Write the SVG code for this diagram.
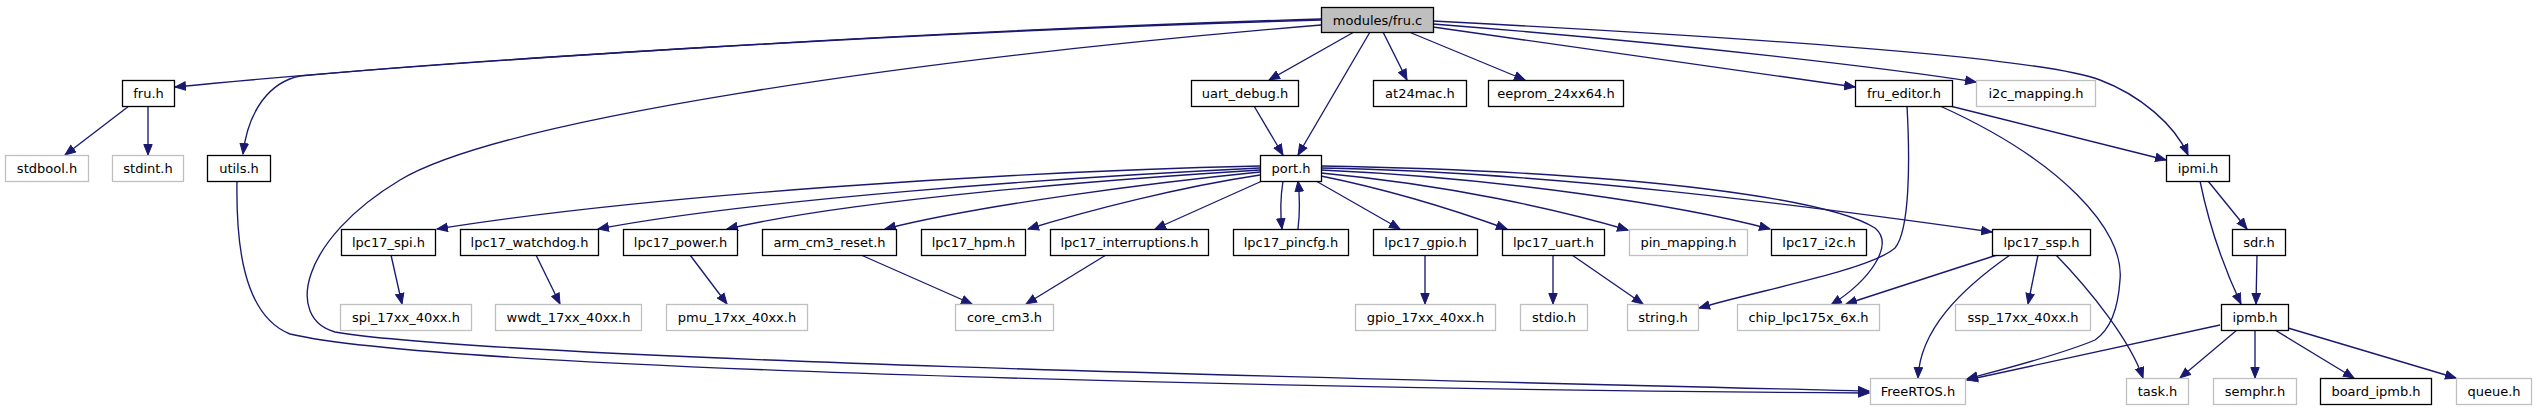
<svg xmlns="http://www.w3.org/2000/svg" width="2536" height="411" viewBox="0 0 2536 411">
<style>
.n rect{fill:#fff;stroke:#000;stroke-width:1.3}
.x rect{fill:#fff;stroke:#bfbfbf;stroke-width:1.3}
#fru_c rect{fill:#bfbfbf}
text{font-family:"DejaVu Sans",sans-serif;font-size:13px;text-anchor:middle;fill:#000}
.e path{fill:none;stroke:#191970;stroke-width:1.35;marker-end:url(#a)}
</style>
<defs>
<marker id="a" markerWidth="12" markerHeight="10" refX="11" refY="5" orient="auto" markerUnits="userSpaceOnUse">
<path d="M0.5,0.8 L11,5 L0.5,9.2 z" fill="#191970" stroke="#191970" stroke-width="1"/>
</marker>
</defs>
<rect width="2536" height="411" fill="#fff"/>
<g class="e" id="edges">
<path d="M1321,19 C950,30 450,60 175,87"/>
<path d="M1321,20 C900,32 450,62 300,76 C270,82 248,110 243,154"/>
<path d="M1321,25 C900,60 500,120 400,180 C300,240 285,318 335,332 C500,360 1400,380 1869,391"/>
<path d="M237,181 C236,240 242,315 290,334 C450,372 1400,390 1869,393"/>
<path d="M1354,32 L1269,80"/>
<path d="M1370,32 L1298,155"/>
<path d="M1254,106 L1283,155"/>
<path d="M1383,32 L1407,80"/>
<path d="M1409,32 L1525,80"/>
<path d="M1433,27 L1855,87"/>
<path d="M1433,24 C1700,45 1900,70 1976,82"/>
<path d="M1433,21 C1800,40 2050,60 2100,80 C2140,95 2175,125 2188,155"/>
<path d="M129,106 L65,155"/>
<path d="M148,106 L148,155"/>
<path d="M1950,106 L2166,160"/>
<path d="M1940,106 C2060,160 2125,230 2120,280 C2118,310 2110,330 2095,340 C2060,355 2000,370 1967,379"/>
<path d="M1907,106 C1910,160 1910,230 1895,248 C1870,270 1760,290 1699,308"/>
<path d="M1260,166 C1000,172 650,195 437,229"/>
<path d="M1260,168 C1050,178 750,200 598,229"/>
<path d="M1260,170 C1100,180 850,200 727,229"/>
<path d="M1260,172 C1150,183 980,205 885,229"/>
<path d="M1260,175 C1180,187 1090,210 1028,229"/>
<path d="M1262,181 L1155,229"/>
<path d="M1283,181 C1280,200 1280,212 1282,229"/>
<path d="M1298,229 C1300,212 1300,198 1298,181"/>
<path d="M1316,181 L1400,229"/>
<path d="M1321,176 C1400,192 1460,212 1507,229"/>
<path d="M1321,173 C1450,185 1560,210 1628,230"/>
<path d="M1321,170 C1500,178 1680,205 1770,229"/>
<path d="M1321,168 C1550,172 1800,205 1992,232"/>
<path d="M1321,166 C1650,172 1830,200 1875,228 C1895,245 1870,280 1831,305"/>
<path d="M391,255 L402,304"/>
<path d="M536,255 L560,304"/>
<path d="M690,255 L727,304"/>
<path d="M861,255 L972,304"/>
<path d="M1106,255 L1026,304"/>
<path d="M1425,255 L1425,304"/>
<path d="M1553,255 L1553,304"/>
<path d="M1572,255 L1643,304"/>
<path d="M1997,255 L1846,304"/>
<path d="M2010,255 C1960,290 1920,330 1918,378"/>
<path d="M2038,255 L2028,304"/>
<path d="M2056,255 C2090,290 2130,340 2143,378"/>
<path d="M2208,181 L2247,229"/>
<path d="M2200,181 C2210,230 2225,270 2241,304"/>
<path d="M2257,255 L2256,304"/>
<path d="M2220,325 L1967,380"/>
<path d="M2237,330 L2180,378"/>
<path d="M2255,330 L2255,378"/>
<path d="M2275,330 L2354,378"/>
<path d="M2288,328 L2456,378"/>
</g>
<g id="fru_c" class="n"><rect x="1321.5" y="7.5" width="112" height="25"/><text x="1377.5" y="25">modules/fru.c</text></g>
<g id="fru_h" class="n"><rect x="122.5" y="80.5" width="52" height="26"/><text x="148.5" y="98">fru.h</text></g>
<g id="uart_debug_h" class="n"><rect x="1191.5" y="80.5" width="107" height="26"/><text x="1245" y="98">uart_debug.h</text></g>
<g id="at24mac_h" class="n"><rect x="1373.5" y="80.5" width="93" height="26"/><text x="1420" y="98">at24mac.h</text></g>
<g id="eeprom_h" class="n"><rect x="1488.5" y="80.5" width="135" height="26"/><text x="1556" y="98">eeprom_24xx64.h</text></g>
<g id="fru_editor_h" class="n"><rect x="1855.5" y="80.5" width="97" height="26"/><text x="1904" y="98">fru_editor.h</text></g>
<g id="i2c_mapping_h" class="x"><rect x="1976.5" y="80.5" width="119" height="26"/><text x="2036" y="98">i2c_mapping.h</text></g>
<g id="stdbool_h" class="x"><rect x="5.5" y="155.5" width="83" height="26"/><text x="47" y="173">stdbool.h</text></g>
<g id="stdint_h" class="x"><rect x="112.5" y="155.5" width="71" height="26"/><text x="148" y="173">stdint.h</text></g>
<g id="utils_h" class="n"><rect x="207.5" y="155.5" width="63" height="26"/><text x="239" y="173">utils.h</text></g>
<g id="port_h" class="n"><rect x="1260.5" y="155.5" width="61" height="26"/><text x="1291" y="173">port.h</text></g>
<g id="ipmi_h" class="n"><rect x="2166.5" y="155.5" width="63" height="26"/><text x="2198" y="173">ipmi.h</text></g>
<g id="lpc17_spi_h" class="n"><rect x="341.5" y="229.5" width="94" height="26"/><text x="388.5" y="247">lpc17_spi.h</text></g>
<g id="lpc17_watchdog_h" class="n"><rect x="460.5" y="229.5" width="138" height="26"/><text x="529.5" y="247">lpc17_watchdog.h</text></g>
<g id="lpc17_power_h" class="n"><rect x="623.5" y="229.5" width="114" height="26"/><text x="680.5" y="247">lpc17_power.h</text></g>
<g id="arm_cm3_reset_h" class="n"><rect x="762.5" y="229.5" width="134" height="26"/><text x="829.5" y="247">arm_cm3_reset.h</text></g>
<g id="lpc17_hpm_h" class="n"><rect x="921.5" y="229.5" width="104" height="26"/><text x="973.5" y="247">lpc17_hpm.h</text></g>
<g id="lpc17_interruptions_h" class="n"><rect x="1050.5" y="229.5" width="158" height="26"/><text x="1129.5" y="247">lpc17_interruptions.h</text></g>
<g id="lpc17_pincfg_h" class="n"><rect x="1233.5" y="229.5" width="115" height="26"/><text x="1291" y="247">lpc17_pincfg.h</text></g>
<g id="lpc17_gpio_h" class="n"><rect x="1373.5" y="229.5" width="104" height="26"/><text x="1425.5" y="247">lpc17_gpio.h</text></g>
<g id="lpc17_uart_h" class="n"><rect x="1502.5" y="229.5" width="102" height="26"/><text x="1553.5" y="247">lpc17_uart.h</text></g>
<g id="pin_mapping_h" class="x"><rect x="1629.5" y="229.5" width="118" height="26"/><text x="1688.5" y="247">pin_mapping.h</text></g>
<g id="lpc17_i2c_h" class="n"><rect x="1771.5" y="229.5" width="95" height="26"/><text x="1819" y="247">lpc17_i2c.h</text></g>
<g id="lpc17_ssp_h" class="n"><rect x="1992.5" y="229.5" width="98" height="26"/><text x="2041.5" y="247">lpc17_ssp.h</text></g>
<g id="sdr_h" class="n"><rect x="2232.5" y="229.5" width="53" height="26"/><text x="2259" y="247">sdr.h</text></g>
<g id="spi_17xx_40xx_h" class="x"><rect x="340.5" y="304.5" width="131" height="26"/><text x="406" y="322">spi_17xx_40xx.h</text></g>
<g id="wwdt_17xx_40xx_h" class="x"><rect x="495.5" y="304.5" width="146" height="26"/><text x="568.5" y="322">wwdt_17xx_40xx.h</text></g>
<g id="pmu_17xx_40xx_h" class="x"><rect x="666.5" y="304.5" width="141" height="26"/><text x="737" y="322">pmu_17xx_40xx.h</text></g>
<g id="core_cm3_h" class="x"><rect x="955.5" y="304.5" width="98" height="26"/><text x="1004.5" y="322">core_cm3.h</text></g>
<g id="gpio_17xx_40xx_h" class="x"><rect x="1355.5" y="304.5" width="140" height="26"/><text x="1425.5" y="322">gpio_17xx_40xx.h</text></g>
<g id="stdio_h" class="x"><rect x="1520.5" y="304.5" width="67" height="26"/><text x="1554" y="322">stdio.h</text></g>
<g id="string_h" class="x"><rect x="1627.5" y="304.5" width="71" height="26"/><text x="1663" y="322">string.h</text></g>
<g id="chip_lpc175x_6x_h" class="x"><rect x="1737.5" y="304.5" width="142" height="26"/><text x="1808.5" y="322">chip_lpc175x_6x.h</text></g>
<g id="ssp_17xx_40xx_h" class="x"><rect x="1955.5" y="304.5" width="135" height="26"/><text x="2023" y="322">ssp_17xx_40xx.h</text></g>
<g id="ipmb_h" class="n"><rect x="2221.5" y="304.5" width="67" height="26"/><text x="2255" y="322">ipmb.h</text></g>
<g id="FreeRTOS_h" class="x"><rect x="1870.5" y="378.5" width="95" height="26"/><text x="1918" y="396">FreeRTOS.h</text></g>
<g id="task_h" class="x"><rect x="2126.5" y="378.5" width="62" height="26"/><text x="2157.5" y="396">task.h</text></g>
<g id="semphr_h" class="x"><rect x="2213.5" y="378.5" width="83" height="26"/><text x="2255" y="396">semphr.h</text></g>
<g id="board_ipmb_h" class="n"><rect x="2320.5" y="378.5" width="111" height="26"/><text x="2376" y="396">board_ipmb.h</text></g>
<g id="queue_h" class="x"><rect x="2456.5" y="378.5" width="75" height="26"/><text x="2494" y="396">queue.h</text></g>
</svg>
